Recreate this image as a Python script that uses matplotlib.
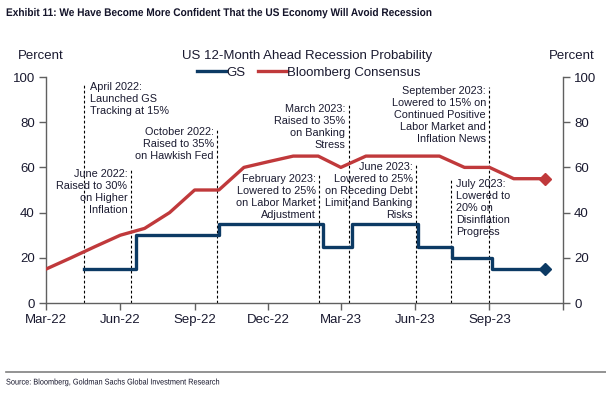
import numpy as np
import pandas as pd
import matplotlib
matplotlib.use('Agg')
import matplotlib.pyplot as plt
from matplotlib.lines import Line2D
from matplotlib.patheffects import AbstractPathEffect
from matplotlib.transforms import Affine2D

plt.rcParams['font.family'] = ['Liberation Sans', 'DejaVu Sans']

# data
bbg_dates = pd.to_datetime(['2022-03-01', '2022-04-01', '2022-05-01', '2022-06-01', '2022-07-01',
                            '2022-08-01', '2022-09-01', '2022-10-01', '2022-11-01', '2022-12-01',
                            '2023-01-01', '2023-02-01', '2023-03-01', '2023-04-01', '2023-05-01',
                            '2023-06-01', '2023-07-01', '2023-08-01', '2023-09-01', '2023-10-01',
                            '2023-11-09'])
bbg_vals = [15, 20, 25, 30, 33, 40, 50, 50, 60, 62.5, 65, 65, 60, 65, 65, 65, 65, 60, 60, 55, 55]

gs_dates = pd.to_datetime(['2022-04-17', '2022-06-20', '2022-10-01', '2023-02-07', '2023-03-15',
                           '2023-06-04', '2023-07-16', '2023-09-04', '2023-11-09'])
gs_vals = [15, 30, 35, 25, 35, 25, 20, 15, 15]

event_dates = pd.to_datetime(['2022-04-17', '2022-06-14', '2022-09-29', '2023-02-02',
                              '2023-03-11', '2023-06-02', '2023-07-15', '2023-09-01'])
event_text = ['April 2022:\nLaunched GS\nTracking at 15%',
              'June 2022:\nRaised to 30%\non Higher\nInflation',
              'October 2022:\nRaised to 35%\non Hawkish Fed',
              'February 2023:\nLowered to 25%\non Labor Market\nAdjustment',
              'March 2023:\nRaised to 35%\non Banking\nStress',
              'June 2023:\nLowered to 25%\non Receding Debt\nLimit and Banking\nRisks',
              'July 2023:\nLowered to\n20% on\nDisinflation\nProgress',
              'September 2023:\nLowered to 15% on\nContinued Positive\nLabor Market and\nInflation News']
# layout of the notes: top of dashed line (y units) and text side
note_top = [97.3, 58.8, 77.4, 56.6, 87.6, 62, 54.4, 95.6]
note_side = ['left', 'right', 'right', 'right', 'right', 'right', 'left', 'right']

tick_dates = pd.to_datetime(['2022-03-01', '2022-06-01', '2022-09-01', '2022-12-01',
                             '2023-03-01', '2023-06-01', '2023-09-01', '2023-12-01'])
tick_labels = ['Mar-22', 'Jun-22', 'Sep-22', 'Dec-22', 'Mar-23', 'Jun-23', 'Sep-23', '']

red = '#c0393b'
navy = '#0c3a64'
txt = '#1a1a30'
spine = '#606060'


# squeeze text horizontally (no narrow font installed)
class Squeeze(AbstractPathEffect):
    def __init__(self, sx, x0):
        super().__init__()
        self.sx, self.x0 = sx, x0

    def draw_path(self, renderer, gc, tpath, affine, rgbFace=None):
        sq = Affine2D().translate(-self.x0, 0).scale(self.sx, 1).translate(self.x0, 0)
        renderer.draw_path(gc, tpath, affine + sq, rgbFace)


fig = plt.figure(figsize=(6.06, 3.98), dpi=100)
ax = fig.add_axes([46/606, 1-303/398, 517/606, 226/398])

ax.plot(bbg_dates, bbg_vals, color=red, lw=2.4, label='Bloomberg Consensus', zorder=3)
ax.plot(bbg_dates[-1:], bbg_vals[-1:], marker='D', color=red, ms=6.5, ls='none', zorder=4)
ax.step(gs_dates, gs_vals, where='post', color=navy, lw=2.4, label='GS', zorder=3)
ax.plot(gs_dates[-1:], gs_vals[-1:], marker='D', color=navy, ms=6.5, ls='none', zorder=4)

for d, t, top, side in zip(event_dates, event_text, note_top, note_side):
    ax.plot([d, d], [0, top], color='black', lw=0.8, ls=(0, (2.5, 2)), zorder=2)
    off = 4 if side == 'left' else -2.5
    ax.annotate(t, xy=(d, top), xytext=(off, 0.5), textcoords='offset points',
                ha=side, va='top', multialignment=side, fontsize=7.8,
                linespacing=1.24, color=txt)

ax.set_xlim(pd.Timestamp('2022-03-01'), pd.Timestamp('2023-12-01'))
ax.set_ylim(0, 100)
ax.set_xticks(tick_dates)
ax.set_xticklabels(tick_labels)
ax.set_yticks(range(0, 101, 20))

ax2 = ax.twinx()
ax2.set_ylim(0, 100)
ax2.set_yticks(range(0, 101, 20))

for a in (ax, ax2):
    a.spines['top'].set_visible(False)
    for s in a.spines.values():
        s.set_color(spine)
        s.set_linewidth(1)
    a.tick_params(colors=spine, labelcolor=txt, labelsize=9.5, length=5, width=1, pad=3)
ax.spines['right'].set_visible(False)
ax2.spines['left'].set_visible(False)
ax2.spines['bottom'].set_visible(False)

handles = [Line2D([], [], color=navy, lw=2.4), Line2D([], [], color=red, lw=2.4)]
fig.legend(handles, ['GS', 'Bloomberg Consensus'], loc='center', bbox_to_anchor=(0.51, 1-73/398),
           ncol=2, frameon=False, fontsize=9.5, handlelength=2.2, handletextpad=0.0,
           columnspacing=1.0, labelcolor=txt)

fig.text(0.507, 1-56/398, 'US 12-Month Ahead Recession Probability', ha='center', va='center',
         fontsize=9.5, color=txt)
fig.text(41/606, 1-56/398, 'Percent', ha='center', va='center', fontsize=9.5, color=txt)
fig.text(572/606, 1-56/398, 'Percent', ha='center', va='center', fontsize=9.5, color=txt)

fig.text(6/606, 1-13/398, 'Exhibit 11: We Have Become More Confident That the US Economy Will Avoid Recession',
         ha='left', va='center', fontsize=8.0, fontweight='bold', color='#14142a',
         path_effects=[Squeeze(0.91, 6)])
fig.add_artist(Line2D([6/606, 1], [1-372/398, 1-372/398], color='#808080', lw=1.2))
fig.text(6/606, 1-383/398, 'Source: Bloomberg, Goldman Sachs Global Investment Research',
         ha='left', va='center', fontsize=6.0, color='#14142a',
         path_effects=[Squeeze(0.88, 6)])

fig.savefig('out.png', dpi=100)
